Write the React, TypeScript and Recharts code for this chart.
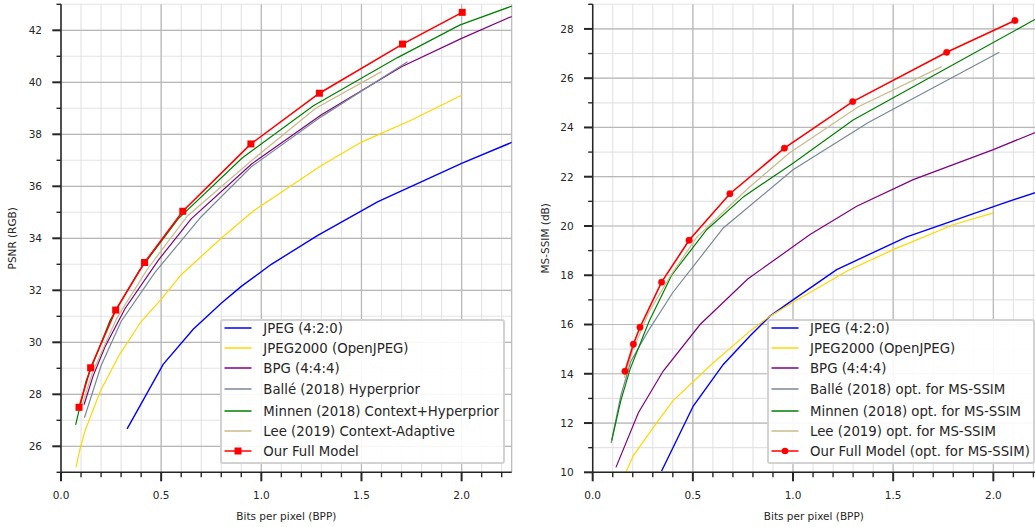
import { LineChart, Line, XAxis, YAxis, CartesianGrid, Legend, Label } from 'recharts';

type Pt = [number, number];

// left panel: PSNR (RGB) vs bits per pixel
const jpegPsnr: Pt[] = [[0.33, 26.67], [0.51, 29.15], [0.66, 30.5], [0.8, 31.5], [0.9, 32.15], [1.05, 33.0], [1.28, 34.1], [1.58, 35.4], [2.0, 36.88], [2.3, 37.85]];
const j2kPsnr: Pt[] = [[0.075, 25.2], [0.095, 25.9], [0.12, 26.6], [0.195, 28.1], [0.29, 29.5], [0.4, 30.8], [0.5, 31.65], [0.6, 32.6], [0.8, 34.0], [0.96, 35.05], [1.3, 36.8], [1.5, 37.7], [1.75, 38.55], [2.0, 39.5]];
const bpgPsnr: Pt[] = [[0.115, 27.6], [0.16, 28.7], [0.22, 29.83], [0.32, 31.3], [0.487, 33.17], [0.65, 34.75], [0.95, 36.85], [1.3, 38.75], [1.7, 40.6], [2.0, 41.69], [2.3, 42.7]];
const ballePsnr: Pt[] = [[0.117, 27.1], [0.2, 29.1], [0.3, 30.8], [0.47, 32.7], [0.7, 34.83], [0.95, 36.75], [1.3, 38.68], [1.73, 40.79]];
const minnenPsnr: Pt[] = [[0.073, 26.82], [0.125, 28.5], [0.245, 30.85], [0.39, 32.75], [0.585, 34.75], [0.903, 37.08], [1.26, 39.1], [1.68, 40.95], [1.99, 42.2], [2.3, 43.07]];
const leePsnr: Pt[] = [[0.095, 27.35], [0.16, 28.9], [0.28, 30.95], [0.43, 32.8], [0.63, 34.85], [0.95, 36.98], [1.27, 38.99], [1.6, 40.41]];
const oursPsnr: Pt[] = [[0.09, 27.5], [0.148, 29.02], [0.273, 31.24], [0.417, 33.07], [0.608, 35.04], [0.948, 37.63], [1.29, 39.58], [1.705, 41.47], [2.003, 42.69]];

// right panel: MS-SSIM (dB) vs bits per pixel
const jpegSsim: Pt[] = [[0.344, 10.05], [0.502, 12.69], [0.652, 14.38], [0.785, 15.53], [0.885, 16.34], [1.0, 17.0], [1.218, 18.23], [1.568, 19.56], [2.03, 20.87], [2.3, 21.6]];
const j2kSsim: Pt[] = [[0.166, 10.0], [0.203, 10.68], [0.303, 11.82], [0.4, 12.9], [0.602, 14.45], [0.785, 15.73], [0.885, 16.34], [1.0, 16.9], [1.268, 18.16], [1.5, 19.04], [1.8, 20.05], [2.0, 20.53]];
const bpgSsim: Pt[] = [[0.116, 10.2], [0.228, 12.42], [0.352, 14.11], [0.536, 16.0], [0.774, 17.85], [1.085, 19.65], [1.318, 20.8], [1.6, 21.88], [2.0, 23.1], [2.3, 24.1]];
const balleSsim: Pt[] = [[0.092, 11.18], [0.14, 13.1], [0.19, 14.5], [0.278, 15.75], [0.4, 17.3], [0.652, 19.92], [1.0, 22.28], [1.376, 24.2], [2.03, 27.05]];
const minnenSsim: Pt[] = [[0.095, 11.3], [0.14, 12.9], [0.187, 14.2], [0.28, 16.1], [0.394, 18.0], [0.569, 19.85], [0.755, 21.2], [1.0, 22.55], [1.3, 24.3], [1.767, 26.4], [2.3, 28.8]];
const leeSsim: Pt[] = [[0.158, 13.84], [0.2, 14.95], [0.28, 16.5], [0.394, 18.05], [0.52, 19.55], [0.777, 21.54], [0.98, 22.95], [1.326, 24.84], [1.742, 26.47]];
const oursSsim: Pt[] = [[0.161, 14.1], [0.203, 15.2], [0.236, 15.89], [0.344, 17.72], [0.481, 19.42], [0.685, 21.31], [0.957, 23.16], [1.298, 25.05], [1.767, 27.05], [2.108, 28.34]];

const xTicks = [0, 0.1, 0.2, 0.3, 0.4, 0.5, 0.6, 0.7, 0.8, 0.9, 1.0, 1.1, 1.2, 1.3, 1.4, 1.5, 1.6, 1.7, 1.8, 1.9, 2.0, 2.1, 2.2];
const xMajor = [0, 0.5, 1.0, 1.5, 2.0];
const psnrTicks = [25, 26, 27, 28, 29, 30, 31, 32, 33, 34, 35, 36, 37, 38, 39, 40, 41, 42, 43];
const psnrMajor = [26, 28, 30, 32, 34, 36, 38, 40, 42];
const ssimTicks = [10, 11, 12, 13, 14, 15, 16, 17, 18, 19, 20, 21, 22, 23, 24, 25, 26, 27, 28, 29];
const ssimMajor = [10, 12, 14, 16, 18, 20, 22, 24, 26, 28];

const FONT = '"DejaVu Sans", sans-serif';
const INK = '#262626';

const C = {
  jpeg: '#0000ff',
  j2k: '#ffd700',
  bpg: '#800080',
  balle: '#778899',
  minnen: '#008000',
  lee: '#c8bb8a',
  ours: '#ff0000',
};

const toRows = (pts: Pt[]) => pts.map(([bpp, v]) => ({ bpp, v }));

function YTick({ x, y, payload, major }: any) {
  const big = major.includes(payload.value);
  return (
    <g>
      <line x1={x} x2={x - (big ? 8.7 : 4.5)} y1={y} y2={y} stroke={INK} strokeWidth={big ? 2 : 1.4} />
      {big && (
        <text x={x - 19} y={y} dy="0.36em" textAnchor="end" fontSize={10.5} fill={INK} fontFamily={FONT}>
          {payload.value}
        </text>
      )}
    </g>
  );
}

function XTick({ x, y, payload }: any) {
  const big = xMajor.includes(payload.value);
  return (
    <g>
      <line x1={x} x2={x} y1={y} y2={y + (big ? 9 : 5)} stroke={INK} strokeWidth={big ? 2 : 1.4} />
      {big && (
        <text x={x} y={y + 26.5} textAnchor="middle" fontSize={10.5} fill={INK} fontFamily={FONT}>
          {payload.value.toFixed(1)}
        </text>
      )}
    </g>
  );
}

// legend keeps the plotting order, not recharts' alphabetical one
function LegendBox({ payload, order }: any) {
  const items = [...(payload || [])].sort(
    (a: any, b: any) => order.indexOf(a.value) - order.indexOf(b.value),
  );
  return (
    <div style={{
      background: 'rgba(255,255,255,0.9)',
      border: '2.5px solid #d2d2d2',
      borderRadius: 3,
      boxSizing: 'border-box',
      fontFamily: FONT,
      fontSize: 13.3,
      color: INK,
      paddingBottom: 1,
      overflow: 'hidden',
    }}>
      {items.map((p: any, i: number) => {
        const accent = String(p.value).includes('é');
        return (
          <div key={p.value} style={{
            height: 20,
            display: 'flex',
            alignItems: 'center',
            whiteSpace: 'nowrap',
            marginTop: i === 0 ? -3 : accent ? 1 : 0,
            marginBottom: accent ? 2 : 0,
          }}>
            <svg width={41} height={20} style={{ flex: 'none' }}>
              <line x1={2.5} x2={29.5} y1={10} y2={10} stroke={p.color} strokeWidth={1.5} />
              {p.type === 'square' && <rect x={12.5} y={6.5} width={7} height={7} fill={p.color} />}
              {p.type === 'circle' && <circle cx={16} cy={10} r={3.3} fill={p.color} />}
            </svg>
            <span>{p.value}</span>
          </div>
        );
      })}
    </div>
  );
}

const squareDot = (p: any) => (
  <rect key={`sq-${p.index}`} x={p.cx - 3.5} y={p.cy - 3.5} width={7} height={7} fill={C.ours} />
);

interface Panel {
  width: number;
  yWidth: number;
  xMax: number;
  rightMargin: number;
  yDomain: [number, number];
  yTicks: number[];
  yMajor: number[];
  yLabel: string;
  yLabelOffset: number;
  legendLeft: number;
  legendWidth: number;
  series: { name: string; color: string; pts: Pt[]; ours?: boolean }[];
  marker: 'square' | 'circle';
  edge?: number;
}

function RDPanel(props: Panel) {
  const { width, yWidth, xMax, rightMargin, yDomain, yTicks, yMajor, yLabel, yLabelOffset, legendLeft, legendWidth, series, marker, edge } = props;
  const order = series.map((s) => s.name);
  return (
    <LineChart width={width} height={527} margin={{ top: 4.3, right: rightMargin, bottom: 0, left: 0 }}>
      <CartesianGrid verticalValues={xTicks} horizontalValues={yTicks} stroke="#e3e3e3" strokeWidth={1.1} />
      <CartesianGrid verticalValues={edge ? [...xMajor, edge] : xMajor} horizontalValues={yMajor} stroke="#b7b7b7" strokeWidth={1.2} />
      <XAxis
        type="number"
        dataKey="bpp"
        domain={[0, xMax]}
        allowDataOverflow
        ticks={xTicks}
        interval={0}
        tickSize={0}
        tickMargin={0}
        tick={(p: any) => <XTick {...p} />}
        axisLine={{ stroke: INK, strokeWidth: 1.4 }}
        height={54.7}
      >
        <Label value="Bits per pixel (BPP)" position="insideBottom" offset={7.5}
          style={{ fontSize: 10.5, fill: INK, fontFamily: FONT }} />
      </XAxis>
      <YAxis
        type="number"
        domain={yDomain}
        allowDataOverflow
        ticks={yTicks}
        interval={0}
        tickSize={0}
        tickMargin={0}
        tick={(p: any) => <YTick {...p} major={yMajor} />}
        axisLine={{ stroke: INK, strokeWidth: 1.5 }}
        width={yWidth}
      >
        <Label value={yLabel} angle={-90} position="insideLeft" offset={yLabelOffset}
          style={{ fontSize: 10.5, fill: INK, fontFamily: FONT, textAnchor: 'middle' }} />
      </YAxis>
      {series.map((s) => (
        <Line
          key={s.name}
          data={toRows(s.pts)}
          dataKey="v"
          name={s.name}
          type="linear"
          stroke={s.color}
          strokeWidth={s.ours ? 1.6 : s.color === C.jpeg ? 1.4 : 1.2}
          dot={s.ours ? (marker === 'square' ? squareDot : { r: 3.2, fill: C.ours, stroke: C.ours, strokeWidth: 0.5 }) : false}
          activeDot={false}
          legendType={s.ours ? marker : 'line'}
          isAnimationActive={false}
        />
      ))}
      <Legend
        layout="vertical"
        align="center"
        verticalAlign="middle"
        wrapperStyle={{ left: legendLeft, top: 319.3, width: legendWidth }}
        content={(p: any) => <LegendBox {...p} order={order} />}
      />
    </LineChart>
  );
}

export default function App() {
  return (
    <div style={{ position: 'absolute', left: 0, top: 0, width: 1035, height: 527, background: '#fff', overflow: 'hidden' }}>
      <div style={{ position: 'absolute', left: 0, top: 0 }}>
        <RDPanel
          width={520}
          yWidth={61}
          xMax={2.25}
          rightMargin={8.3}
          yDomain={[25, 43]}
          yTicks={psnrTicks}
          yMajor={psnrMajor}
          yLabel="PSNR (RGB)"
          yLabelOffset={12}
          legendLeft={220.3}
          legendWidth={285}
          marker="square"
          edge={2.25}
          series={[
            { name: 'JPEG (4:2:0)', color: C.jpeg, pts: jpegPsnr },
            { name: 'JPEG2000 (OpenJPEG)', color: C.j2k, pts: j2kPsnr },
            { name: 'BPG (4:4:4)', color: C.bpg, pts: bpgPsnr },
            { name: 'Ballé (2018) Hyperprior', color: C.balle, pts: ballePsnr },
            { name: 'Minnen (2018) Context+Hyperprior', color: C.minnen, pts: minnenPsnr },
            { name: 'Lee (2019) Context-Adaptive', color: C.lee, pts: leePsnr },
            { name: 'Our Full Model', color: C.ours, pts: oursPsnr, ours: true },
          ]}
        />
      </div>
      <div style={{ position: 'absolute', left: 520, top: 0 }}>
        <RDPanel
          width={515}
          yWidth={72.7}
          xMax={2.208}
          rightMargin={0}
          yDomain={[10, 29]}
          yTicks={ssimTicks}
          yMajor={ssimMajor}
          yLabel="MS-SSIM (dB)"
          yLabelOffset={25}
          legendLeft={247}
          legendWidth={268}
          marker="circle"
          series={[
            { name: 'JPEG (4:2:0)', color: C.jpeg, pts: jpegSsim },
            { name: 'JPEG2000 (OpenJPEG)', color: C.j2k, pts: j2kSsim },
            { name: 'BPG (4:4:4)', color: C.bpg, pts: bpgSsim },
            { name: 'Ballé (2018) opt. for MS-SSIM', color: C.balle, pts: balleSsim },
            { name: 'Minnen (2018) opt. for MS-SSIM', color: C.minnen, pts: minnenSsim },
            { name: 'Lee (2019) opt. for MS-SSIM', color: C.lee, pts: leeSsim },
            { name: 'Our Full Model (opt. for MS-SSIM)', color: C.ours, pts: oursSsim, ours: true },
          ]}
        />
      </div>
    </div>
  );
}
